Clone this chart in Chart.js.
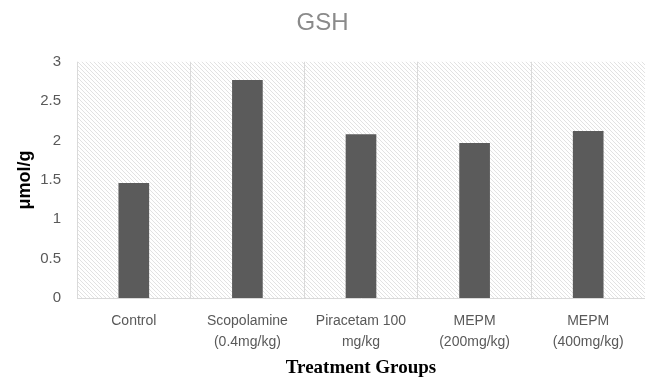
<!DOCTYPE html>
<html>
<head>
<meta charset="utf-8">
<script src="https://cdn.jsdelivr.net/npm/chart.js@4.4.1/dist/chart.umd.min.js"></script>
<style>
  html, body { margin: 0; padding: 0; background: #fff; }
  #wrap { width: 645px; height: 380px; }
</style>
</head>
<body>
<div id="wrap"><canvas id="gshChart"></canvas></div>
<script>
const groups = [['Control'], ['Scopolamine', '(0.4mg/kg)'], ['Piracetam 100', 'mg/kg'], ['MEPM', '(200mg/kg)'], ['MEPM', '(400mg/kg)']];
const gshValues = [1.46, 2.77, 2.08, 1.97, 2.12];
const yTicks = [0, 0.5, 1, 1.5, 2, 2.5, 3];

// diagonal hatch for the plot area
function makeHatch() {
    const c = document.createElement('canvas');
    c.width = 4; c.height = 4;
    const g = c.getContext('2d');
    g.fillStyle = '#ffffff';
    g.fillRect(0, 0, 4, 4);
    g.strokeStyle = '#e2e2e2';
    g.lineWidth = 1;
    g.beginPath();
    g.moveTo(-1, -1); g.lineTo(5, 5);
    g.moveTo(-1, 3); g.lineTo(1, 5);
    g.moveTo(3, -1); g.lineTo(5, 1);
    g.stroke();
    return g.createPattern(c, 'repeat');
}

const hatchBg = {
    id: 'hatchBg',
    beforeDraw(chart) {
        const { ctx, chartArea: a } = chart;
        ctx.save();
        ctx.fillStyle = makeHatch();
        ctx.fillRect(a.left, a.top, a.right - a.left, a.bottom - a.top);
        ctx.restore();
    }
};

const ctx = document.getElementById('gshChart').getContext('2d');
new Chart(ctx, {
    type: 'bar',
    data: {
        labels: groups,
        datasets: [{ label: 'GSH', data: gshValues, backgroundColor: '#5b5b5b', barPercentage: 0.27, categoryPercentage: 1 }]
    },
    options: {
        responsive: true,
        maintainAspectRatio: false,
        animation: false,
        layout: { padding: 0 },
        plugins: {
            legend: { display: false },
            tooltip: { enabled: false },
            title: {
                display: true, text: 'GSH', color: '#8a8a8a',
                font: { family: 'Liberation Sans', size: 24, weight: 'normal', lineHeight: 1.2 },
                padding: { top: 9, bottom: 24 }
            }
        },
        scales: {
            x: {
                grid: { display: true, offset: true, color: '#dadada', drawTicks: false },
                border: { display: true, color: '#d9d9d9' },
                ticks: { color: '#595959', padding: 12, maxRotation: 0, autoSkip: false,
                    font: { family: 'Liberation Sans', size: 14, lineHeight: 1.55 } },
                title: { display: true, text: 'Treatment Groups', color: '#000',
                    font: { family: 'Liberation Serif', size: 19, weight: 'bold', lineHeight: 1.2 },
                    padding: { top: 0, bottom: 1 } },
                afterFit(axis) { axis.height = 82; }
            },
            y: {
                min: 0, max: 3,
                grid: { display: false, drawTicks: false },
                border: { display: false },
                afterBuildTicks(axis) { axis.ticks = yTicks.map(v => ({ value: v })); },
                ticks: { color: '#595959', padding: 16,
                    font: { family: 'Liberation Sans', size: 15 },
                    callback: v => String(v) },
                title: { display: true, text: 'μmol/g', color: '#000',
                    font: { family: 'Liberation Sans', size: 18, weight: 'bold', lineHeight: 1.2 },
                    padding: { top: 14, bottom: 0 } },
                afterFit(axis) { axis.width = 77; }
            }
        }
    },
    plugins: [hatchBg]
});
</script>
</body>
</html>
